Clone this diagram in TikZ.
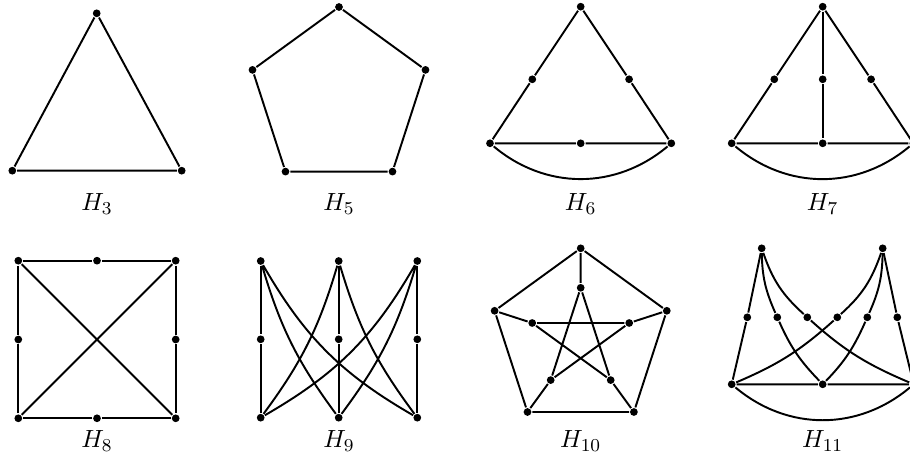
\documentclass[11pt,tikz,border=0pt]{standalone}
\begin{document}
\begin{tikzpicture}[x=0.44pt,y=0.44pt,line width=0.85pt,v/.style={circle,fill,inner sep=0pt,minimum size=3.4pt},lab/.style={anchor=base}]
\useasboundingbox (0,0) rectangle (910,463);
% H_3
\node[v] (t3) at (96.7,449.7){};
\node[v] (l3) at (12.3,292.3){};
\node[v] (r3) at (181.7,292.3){};
\draw (t3)--(l3)--(r3)--(t3);
\node[lab] (h3) at (97,252.5){$H_3$};
% H_5
\node[v] (t5) at (339,456){};
\node[v] (l5) at (252.5,393.1){};
\node[v] (r5) at (425.5,393.1){};
\node[v] (bl5) at (285.5,291.4){};
\node[v] (br5) at (392.5,291.4){};
\draw (t5)--(r5)--(br5)--(bl5)--(l5)--(t5);
\node[lab] (h5) at (339,252.5){$H_5$};
% H_6
\node[v] (t6) at (580.7,456.3){};
\node[v] (ml6) at (532.3,383.7){};
\node[v] (mr6) at (629.1,383.7){};
\node[v] (bl6) at (490,319.7){};
\node[v] (bm6) at (580.7,319.7){};
\node[v] (br6) at (671.3,319.7){};
\draw (t6)--(ml6)--(bl6)--(bm6)--(br6)--(mr6)--(t6);
\draw (bl6) to[bend right=40] (br6);
\node[lab] (h6) at (580.7,252.5){$H_6$};
% H_7
\node[v] (t7) at (822.7,456.3){};
\node[v] (ml7) at (774.3,383.7){};
\node[v] (m7) at (822.7,383.7){};
\node[v] (mr7) at (871.1,383.7){};
\node[v] (bl7) at (731.7,319.7){};
\node[v] (bm7) at (822.7,319.7){};
\node[v] (br7) at (913.3,319.7){};
\draw (t7)--(ml7)--(bl7)--(bm7)--(br7)--(mr7)--(t7);
\draw (t7)--(m7)--(bm7);
\draw (bl7) to[bend right=40] (br7);
\node[lab] (h7) at (822.7,252.5){$H_7$};
% H_8
\node[v] (tl8) at (18.3,202.3){};
\node[v] (tm8) at (97,202.3){};
\node[v] (tr8) at (175.7,202.3){};
\node[v] (ml8) at (18.3,123.5){};
\node[v] (mr8) at (175.7,123.5){};
\node[v] (bl8) at (18.3,44.7){};
\node[v] (bm8) at (97,44.7){};
\node[v] (br8) at (175.7,44.7){};
\draw (tl8)--(tm8)--(tr8)--(mr8)--(br8)--(bm8)--(bl8)--(ml8)--(tl8);
\draw (tl8)--(br8) (tr8)--(bl8);
\node[lab] (h8) at (97,15.3){$H_8$};
% H_9
\node[v] (t9a) at (260.7,202){};
\node[v] (t9b) at (338.7,202){};
\node[v] (t9c) at (417.3,202){};
\node[v] (m9a) at (260.7,123.7){};
\node[v] (m9b) at (338.7,123.7){};
\node[v] (m9c) at (417.3,123.7){};
\node[v] (b9a) at (260.7,45.3){};
\node[v] (b9b) at (338.7,45.3){};
\node[v] (b9c) at (417.3,45.3){};
\draw (t9a)--(m9a)--(b9a) (t9b)--(m9b)--(b9b) (t9c)--(m9c)--(b9c);
\draw (t9a) to[bend right=10] (b9b) (t9a) to[bend right=15] (b9c);
\draw (t9b) to[bend left=10] (b9a) (t9b) to[bend right=10] (b9c);
\draw (t9c) to[bend left=15] (b9a) (t9c) to[bend left=10] (b9b);
\node[lab] (h9) at (339,15.3){$H_9$};
% H_10
\node[v] (o1) at (580.7,214.7){};
\node[v] (o2) at (494.6,152.2){};
\node[v] (o3) at (527.5,51){};
\node[v] (o4) at (633.9,51){};
\node[v] (o5) at (666.8,152.2){};
\node[v] (i1) at (580.7,175.2){};
\node[v] (i2) at (532.2,140){};
\node[v] (i3) at (550.7,82.9){};
\node[v] (i4) at (610.7,82.9){};
\node[v] (i5) at (629.2,140){};
\draw (o1)--(o2)--(o3)--(o4)--(o5)--(o1);
\draw (o1)--(i1) (o2)--(i2) (o3)--(i3) (o4)--(i4) (o5)--(i5);
\draw (i1)--(i3)--(i5)--(i2)--(i4)--(i1);
\node[lab] (h10) at (580.7,15.3){$H_{10}$};
% H_11
\node[v] (tl11) at (761.7,214.7){};
\node[v] (tr11) at (882.7,214.7){};
\node[v] (m11a) at (747.3,145.7){};
\node[v] (m11b) at (777.3,145.7){};
\node[v] (m11c) at (807.3,145.7){};
\node[v] (m11d) at (837.3,145.7){};
\node[v] (m11e) at (867.3,145.7){};
\node[v] (m11f) at (897.3,145.7){};
\node[v] (bl11) at (731.7,78.7){};
\node[v] (bm11) at (822.7,78.7){};
\node[v] (br11) at (913.7,78.7){};
\draw (tl11)--(m11a)--(bl11)--(bm11)--(br11)--(m11f)--(tr11);
\draw (bl11) to[bend right=40] (br11);
\draw (tl11) to[out=-89,in=114] (m11b) to[out=-66,in=134] (bm11);
\draw (tl11) to[out=-71,in=138] (m11c) to[out=-42,in=157] (br11);
\draw (tr11) to[out=-109,in=42] (m11d) to[out=-138,in=23] (bl11);
\draw (tr11) to[out=-91,in=66] (m11e) to[out=-114,in=46] (bm11);
\node[lab] (h11) at (822.7,15.3){$H_{11}$};
\end{tikzpicture}
\end{document}
